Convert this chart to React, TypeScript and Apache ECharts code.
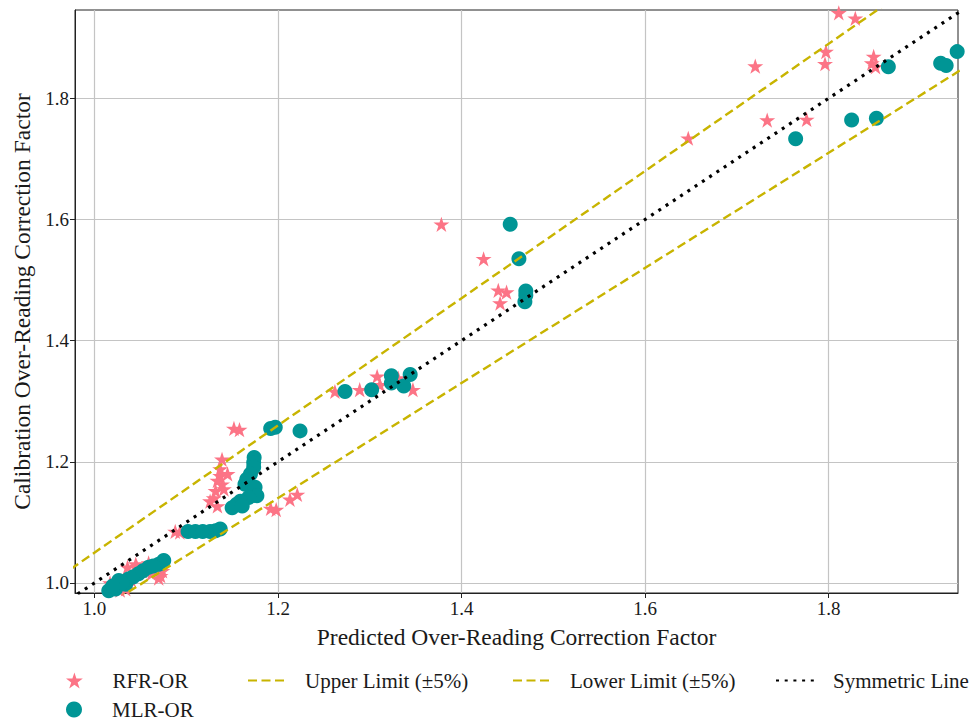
import React, { useEffect, useRef } from "react";
import * as echarts from "echarts";

// RFR-OR predictions: [predicted, calibration]
const rfrX = [
  1.811, 1.829, 1.72, 1.797, 1.796, 1.849, 1.847, 1.851, 1.733, 1.776, 1.647,
  1.378, 1.424, 1.44, 1.449, 1.442,
  1.262, 1.289, 1.308, 1.311, 1.331, 1.347,
  1.152, 1.158, 1.139, 1.137, 1.137, 1.134, 1.139, 1.132, 1.141, 1.126, 1.134, 1.145, 1.13,
  1.192, 1.198, 1.213, 1.221,
  1.088, 1.093,
  1.046, 1.059, 1.07, 1.017, 1.028, 1.036, 1.045, 1.072, 1.074, 1.034, 1.052, 1.04, 1.062,
];
const rfrY = [
  1.941, 1.932, 1.853, 1.877, 1.857, 1.869, 1.858, 1.852, 1.764, 1.765, 1.734,
  1.592, 1.535, 1.483, 1.48, 1.462,
  1.316, 1.319, 1.341, 1.327, 1.338, 1.319,
  1.255, 1.253, 1.204, 1.188, 1.177, 1.169, 1.163, 1.152, 1.155, 1.135, 1.127, 1.18, 1.14,
  1.123, 1.121, 1.138, 1.146,
  1.085, 1.084,
  1.027, 1.033, 1.008, 1.0, 0.988, 1.026, 1.031, 1.012, 1.02, 0.99, 1.02, 1.005, 1.015,
];

// MLR-OR predictions: [predicted, calibration]
const mlrX = [
  1.865, 1.922, 1.928, 1.94, 1.825, 1.852, 1.764,
  1.453, 1.4625, 1.47, 1.47, 1.469,
  1.273, 1.302, 1.3235, 1.3235, 1.337, 1.344,
  1.192, 1.197, 1.224,
  1.174, 1.1735, 1.1735, 1.17, 1.166, 1.164, 1.175, 1.177, 1.168, 1.159, 1.155, 1.15, 1.161,
  1.102, 1.11, 1.118, 1.126, 1.132, 1.137,
  1.0156, 1.023, 1.0265, 1.034, 1.037, 1.048, 1.059, 1.07, 1.0755, 1.042, 1.053, 1.064, 1.03, 1.02,
];
const mlrY = [
  1.852, 1.858, 1.854, 1.877, 1.764, 1.767, 1.733,
  1.592, 1.535, 1.482, 1.475, 1.464,
  1.316, 1.319, 1.342, 1.33, 1.325, 1.344,
  1.255, 1.257, 1.251,
  1.207, 1.199, 1.191, 1.18, 1.171, 1.163, 1.158, 1.144, 1.141, 1.135, 1.13, 1.124, 1.127,
  1.085, 1.085, 1.085, 1.085, 1.086, 1.089,
  0.987, 0.99, 1.004, 0.998, 1.0066, 1.015, 1.026, 1.031, 1.037, 1.01, 1.02, 1.028, 1.0, 0.995,
];

// axis ranges and tick labels
const xRange = [0.9788, 1.9409];
const yRange = [0.9834, 1.9457];
const tickValues = [1.0, 1.2, 1.4, 1.6, 1.8];

// reference lines: symmetric y = x and the ±5% band
const lineX = [0.95, 1.97];
const upperFactor = 1.05;
const lowerFactor = 0.95;

const FONT = "Liberation Serif";
const STAR =
  "path://M100 0 L122.45 69.1 L195.1 69.1 L136.3 111.8 L158.8 180.9 L100 138.2 L41.2 180.9 L63.7 111.8 L4.9 69.1 L77.55 69.1 Z";
const PINK = "#fc7486";
const TEAL = "#009595";
const OLIVE = "#c8b400";

const zip = (xs: number[], ys: number[]) => xs.map((x, i) => [x, ys[i]]);

function legendAt(name: string, left: number, top: number, hideSymbol = false) {
  const legend: Record<string, unknown> = {
    data: [name],
    left,
    top,
    padding: 0,
    orient: "horizontal",
    selectedMode: false,
    itemWidth: 38,
    itemHeight: 16,
    textStyle: {
      fontFamily: FONT,
      fontSize: 21,
      color: "#1a1a1a",
      padding: [0, 0, 0, 14],
    },
  };
  // line entries show only the stroke, without a marker in the middle
  if (hideSymbol) legend.itemStyle = { opacity: 0 };
  return legend;
}

export default function App() {
  const ref = useRef<HTMLDivElement>(null);

  useEffect(() => {
    if (!ref.current) return;
    const chart = echarts.init(ref.current, undefined, { renderer: "svg" });

    const axisCommon = {
      type: "value",
      axisLine: { show: true, onZero: false, lineStyle: { color: "#222", width: 1 } },
      axisTick: {
        show: true,
        inside: false,
        length: 5,
        customValues: tickValues,
        lineStyle: { color: "#222" },
      },
      axisLabel: {
        customValues: tickValues,
        formatter: (v: number) => v.toFixed(1),
        fontFamily: FONT,
        fontSize: 19,
        color: "#1a1a1a",
        margin: 6,
      },
      splitLine: { show: true, lineStyle: { color: "#c4c4c4", width: 1.2 } },
      nameLocation: "middle",
      nameTextStyle: { fontFamily: FONT, fontSize: 23.5, color: "#1a1a1a" },
    };

    chart.setOption({
      animation: false,
      backgroundColor: "#ffffff",
      textStyle: { fontFamily: FONT },
      grid: {
        left: 75,
        right: 15,
        top: 10,
        bottom: 129,
        containLabel: false,
        outerBoundsMode: "none",
        show: true,
        borderColor: "#222",
        borderWidth: 1,
      },
      xAxis: {
        ...axisCommon,
        min: xRange[0],
        max: xRange[1],
        name: "Predicted Over-Reading Correction Factor",
        nameGap: 32,
      },
      yAxis: {
        ...axisCommon,
        min: yRange[0],
        max: yRange[1],
        name: "Calibration Over-Reading Correction Factor",
        nameGap: 41,
      },
      legend: [
        legendAt("RFR-OR", 66, 670),
        legendAt("Upper Limit (±5%)", 247, 670, true),
        legendAt("Lower Limit (±5%)", 512, 670, true),
        legendAt("Symmetric Line", 775, 670, true),
        legendAt("MLR-OR", 66, 699),
      ],
      series: [
        {
          name: "RFR-OR",
          type: "scatter",
          data: zip(rfrX, rfrY),
          symbol: STAR,
          symbolKeepAspect: true,
          symbolSize: 16,
          itemStyle: { color: PINK, opacity: 1 },
          z: 3,
        },
        {
          name: "MLR-OR",
          type: "scatter",
          data: zip(mlrX, mlrY),
          symbol: "circle",
          symbolSize: 15,
          itemStyle: { color: TEAL, opacity: 1 },
          z: 4,
        },
        {
          name: "Upper Limit (±5%)",
          type: "line",
          data: lineX.map((x) => [x, x * upperFactor]),
          symbol: "none",
          clip: true,
          lineStyle: { color: OLIVE, width: 2.4, type: [9, 4.5] },
          itemStyle: { color: OLIVE },
          z: 5,
        },
        {
          name: "Lower Limit (±5%)",
          type: "line",
          data: lineX.map((x) => [x, x * lowerFactor]),
          symbol: "none",
          clip: true,
          lineStyle: { color: OLIVE, width: 2.4, type: [9, 4.5] },
          itemStyle: { color: OLIVE },
          z: 5,
        },
        {
          name: "Symmetric Line",
          type: "line",
          data: lineX.map((x) => [x, x]),
          symbol: "none",
          clip: true,
          lineStyle: { color: "#000", width: 3.2, type: [3, 5.7] },
          itemStyle: { color: "#000" },
          z: 6,
        },
      ],
    });

    return () => chart.dispose();
  }, []);

  return (
    <div
      ref={ref}
      style={{ position: "fixed", left: 0, top: 0, width: 973, height: 722, background: "#fff" }}
    />
  );
}
